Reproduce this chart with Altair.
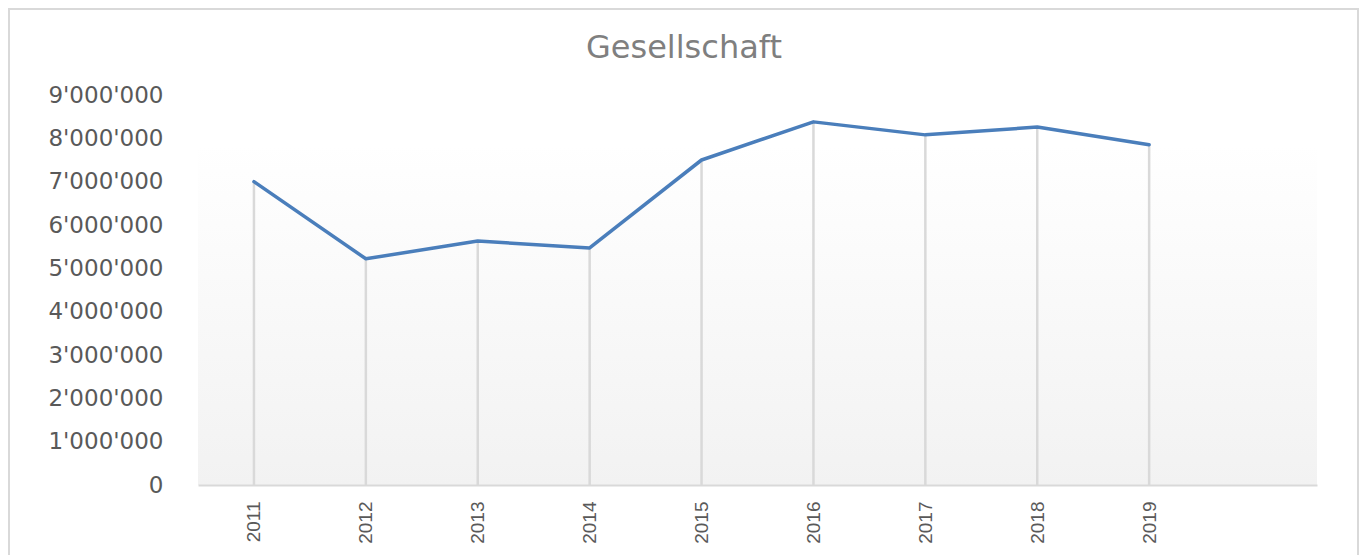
import altair as alt
import pandas as pd

years = [2011, 2012, 2013, 2014, 2015, 2016, 2017, 2018, 2019]
values = [7000000, 5220000, 5630000, 5470000, 7500000, 8380000, 8080000, 8260000, 7850000]
title_text = "Gesellschaft"
y_ticks = [0, 1000000, 2000000, 3000000, 4000000, 5000000, 6000000, 7000000, 8000000, 9000000]

df = pd.DataFrame({"year": years, "value": values})
one = pd.DataFrame({"t": [title_text]})

W, H = 1119, 390

xscale = alt.Scale(domain=[2010.5, 2020.5], nice=False, zero=False)
yscale = alt.Scale(domain=[0, 9000000], nice=False)

xaxis = alt.Axis(values=years, format="d", labelAngle=-90, labelFont="Liberation Sans",
                 labelFontSize=19, labelColor="#595959", domainColor="#d9d9d9",
                 domainWidth=2, ticks=False, grid=False, labelPadding=16,
                 labelFlush=False, title=None, zindex=1)
yaxis = alt.Axis(values=y_ticks, labelExpr="replace(format(datum.value, ','), /,/g, \"'\")",
                 labelFont="DejaVu Sans", labelFontSize=23, labelColor="#595959",
                 domain=False, ticks=False, grid=False, labelPadding=35, title=None)

border = alt.Chart(one).mark_rect(fill="transparent", stroke="#d9d9d9", strokeWidth=2).encode(
    x=alt.value(-189), x2=alt.value(1160), y=alt.value(-86), y2=alt.value(480))

bg = alt.Chart(one).mark_rect(
    color=alt.LinearGradient(gradient="linear", x1=0, x2=0, y1=0, y2=1,
                             stops=[alt.GradientStop(color="#ffffff", offset=0),
                                    alt.GradientStop(color="#f2f2f2", offset=1)])
).encode(x=alt.value(0), x2=alt.value(W), y=alt.value(50), y2=alt.value(H))

drops = alt.Chart(df).mark_rule(color="#d9d9d9", strokeWidth=2.5).encode(
    x=alt.X("year:Q", scale=xscale, axis=xaxis),
    y=alt.Y("value:Q", scale=yscale, axis=yaxis),
    y2=alt.datum(0))

line = alt.Chart(df).mark_line(color="#4a7ebb", strokeWidth=3.5, strokeCap="round",
                               strokeJoin="round").encode(
    x=alt.X("year:Q", scale=xscale),
    y=alt.Y("value:Q", scale=yscale))

title = alt.Chart(one).mark_text(font="DejaVu Sans", fontSize=32, color="#7f7f7f",
                                 align="center", baseline="middle").encode(
    text="t:N", x=alt.value(486), y=alt.value(-47))

chart = alt.layer(border, bg, drops, line, title).properties(
    width=W, height=H,
    autosize=alt.AutoSizeParams(type="none"),
    padding={"left": 190, "top": 87, "right": 45, "bottom": 70},
).configure_view(stroke=None)

chart.save("out.html", embed_options={"renderer": "svg", "actions": False})
